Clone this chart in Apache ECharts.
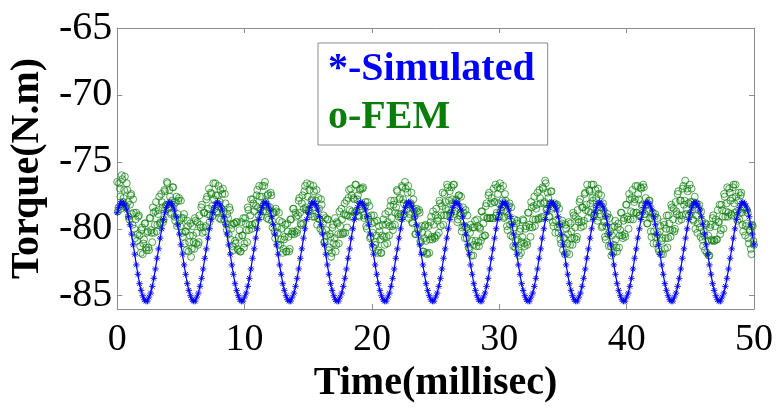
<!DOCTYPE html>
<html>
<head>
<meta charset="utf-8">
<script src="https://cdn.jsdelivr.net/npm/echarts@6/dist/echarts.min.js"></script>
<style>
  html, body { margin: 0; padding: 0; background: #fff; }
  #chart { width: 777px; height: 409px; }
</style>
</head>
<body>
<div id="chart"></div>
<script>
// Torque of the machine: analytical simulation vs finite-element result.
const seriesNames = ['*-Simulated', 'o-FEM'];
const yTickValues = [-85, -80, -75, -70, -65];
const xTickValues = [0, 10, 20, 30, 40, 50];

// Simulated torque (N.m), sampled every 0.125 ms from 0 to 50 ms.
const simStepMs = 0.125;
const simulatedTorque = [
  -78.8,-78.4,-78.1,-78.0,-78.1,-78.3,-78.6,-79.1,-79.7,-80.4,-81.2,-81.9,-82.7,-83.4,-84.1,-84.6,-85.0,-85.3,-85.4,-85.4,-85.1,-84.8,-84.3,-83.7,-83.0,-82.2,-81.5,-80.7,-80.0,-79.3,
  -78.8,-78.4,-78.1,-78.0,-78.1,-78.3,-78.6,-79.1,-79.7,-80.4,-81.2,-81.9,-82.7,-83.4,-84.1,-84.6,-85.0,-85.3,-85.4,-85.4,-85.1,-84.8,-84.3,-83.7,-83.0,-82.2,-81.5,-80.7,-80.0,-79.3,
  -78.8,-78.4,-78.1,-78.0,-78.1,-78.3,-78.6,-79.1,-79.7,-80.4,-81.2,-81.9,-82.7,-83.4,-84.1,-84.6,-85.0,-85.3,-85.4,-85.4,-85.1,-84.8,-84.3,-83.7,-83.0,-82.2,-81.5,-80.7,-80.0,-79.3,
  -78.8,-78.4,-78.1,-78.0,-78.1,-78.3,-78.6,-79.1,-79.7,-80.4,-81.2,-81.9,-82.7,-83.4,-84.1,-84.6,-85.0,-85.3,-85.4,-85.4,-85.1,-84.8,-84.3,-83.7,-83.0,-82.2,-81.5,-80.7,-80.0,-79.3,
  -78.8,-78.4,-78.1,-78.0,-78.1,-78.3,-78.6,-79.1,-79.7,-80.4,-81.2,-81.9,-82.7,-83.4,-84.1,-84.6,-85.0,-85.3,-85.4,-85.4,-85.1,-84.8,-84.3,-83.7,-83.0,-82.2,-81.5,-80.7,-80.0,-79.3,
  -78.8,-78.4,-78.1,-78.0,-78.1,-78.3,-78.6,-79.1,-79.7,-80.4,-81.2,-81.9,-82.7,-83.4,-84.1,-84.6,-85.0,-85.3,-85.4,-85.4,-85.1,-84.8,-84.3,-83.7,-83.0,-82.2,-81.5,-80.7,-80.0,-79.3,
  -78.8,-78.4,-78.1,-78.0,-78.1,-78.3,-78.6,-79.1,-79.7,-80.4,-81.2,-81.9,-82.7,-83.4,-84.1,-84.6,-85.0,-85.3,-85.4,-85.4,-85.1,-84.8,-84.3,-83.7,-83.0,-82.2,-81.5,-80.7,-80.0,-79.3,
  -78.8,-78.4,-78.1,-78.0,-78.1,-78.3,-78.6,-79.1,-79.7,-80.4,-81.2,-81.9,-82.7,-83.4,-84.1,-84.6,-85.0,-85.3,-85.4,-85.4,-85.1,-84.8,-84.3,-83.7,-83.0,-82.2,-81.5,-80.7,-80.0,-79.3,
  -78.8,-78.4,-78.1,-78.0,-78.1,-78.3,-78.6,-79.1,-79.7,-80.4,-81.2,-81.9,-82.7,-83.4,-84.1,-84.6,-85.0,-85.3,-85.4,-85.4,-85.1,-84.8,-84.3,-83.7,-83.0,-82.2,-81.5,-80.7,-80.0,-79.3,
  -78.8,-78.4,-78.1,-78.0,-78.1,-78.3,-78.6,-79.1,-79.7,-80.4,-81.2,-81.9,-82.7,-83.4,-84.1,-84.6,-85.0,-85.3,-85.4,-85.4,-85.1,-84.8,-84.3,-83.7,-83.0,-82.2,-81.5,-80.7,-80.0,-79.3,
  -78.8,-78.4,-78.1,-78.0,-78.1,-78.3,-78.6,-79.1,-79.7,-80.4,-81.2,-81.9,-82.7,-83.4,-84.1,-84.6,-85.0,-85.3,-85.4,-85.4,-85.1,-84.8,-84.3,-83.7,-83.0,-82.2,-81.5,-80.7,-80.0,-79.3,
  -78.8,-78.4,-78.1,-78.0,-78.1,-78.3,-78.6,-79.1,-79.7,-80.4,-81.2,-81.9,-82.7,-83.4,-84.1,-84.6,-85.0,-85.3,-85.4,-85.4,-85.1,-84.8,-84.3,-83.7,-83.0,-82.2,-81.5,-80.7,-80.0,-79.3,
  -78.8,-78.4,-78.1,-78.0,-78.1,-78.3,-78.6,-79.1,-79.7,-80.4,-81.2,-81.9,-82.7,-83.4,-84.1,-84.6,-85.0,-85.3,-85.4,-85.4,-85.1,-84.8,-84.3,-83.7,-83.0,-82.2,-81.5,-80.7,-80.0,-79.3,
  -78.8,-78.4,-78.1,-78.0,-78.1,-78.3,-78.6,-79.1,-79.7,-80.4,-81.2
];

// FEM torque (N.m), sampled every 0.1 ms from 0 to 50 ms.
const femStepMs = 0.1;
const femTorque = [
  -76.5,-78.4,-77.0,-78.5,
  -76.3,-77.7,-76.1,-78.3,-77.1,-79.1,-78.2,-77.4,-79.7,-78.8,-80.7,-78.8,-80.4,-79.0,-81.3,-80.1,-81.9,-80.8,-79.6,-81.6,-80.2,-81.6,-79.2,-80.3,-78.4,-80.3,-78.7,-80.2,-78.9,-77.6,-79.5,-78.0,-79.5,-77.1,-78.3,-76.5,-78.5,
  -77.1,-78.9,-77.9,-76.9,-79.1,-78.0,-79.8,-77.9,-79.4,-77.9,-80.3,-79.2,-81.1,-80.2,-79.4,-81.7,-80.5,-82.1,-79.8,-81.0,-79.2,-81.1,-79.5,-81.0,-79.7,-78.4,-80.3,-78.8,-80.2,-77.8,-78.9,-77.0,-79.0,-77.4,-79.0,-77.8,-76.6,
  -78.7,-77.5,-79.2,-77.1,-78.5,-77.0,-79.3,-78.1,-80.1,-79.2,-78.4,-80.8,-79.7,-81.6,-79.6,-81.1,-79.5,-81.6,-80.1,-81.7,-80.5,-79.2,-81.1,-79.6,-81.0,-78.6,-79.7,-77.8,-79.7,-78.1,-79.6,-78.3,-77.1,-79.0,-77.6,-79.1,-76.8,
  -78.2,-76.5,-78.7,-77.5,-79.3,-78.4,-77.5,-79.9,-78.8,-80.7,-78.7,-80.3,-78.8,-81.2,-80.0,-81.8,-80.8,-79.7,-81.7,-80.2,-81.7,-79.3,-80.4,-78.5,-80.4,-78.8,-80.3,-79.0,-77.7,-79.6,-78.1,-79.6,-77.2,-78.4,-76.6,-78.6,-77.1,
  -78.9,-77.8,-76.8,-79.1,-77.9,-79.7,-77.7,-79.3,-77.8,-80.2,-79.0,-81.0,-80.1,-79.3,-81.6,-80.4,-82.1,-79.9,-81.1,-79.2,-81.2,-79.6,-81.1,-79.8,-78.5,-80.4,-78.9,-80.3,-77.9,-79.0,-77.1,-79.1,-77.5,-79.1,-77.8,-76.7,
  -78.7,-77.5,-79.1,-77.0,-78.5,-76.9,-79.2,-78.0,-80.0,-79.1,-78.3,-80.6,-79.6,-81.4,-79.5,-81.0,-79.4,-81.6,-80.2,-81.8,-80.5,-79.3,-81.2,-79.7,-81.1,-78.7,-79.8,-77.9,-79.8,-78.2,-79.7,-78.4,-77.2,-79.1,-77.7,-79.2,-76.9,
  -78.1,-76.5,-78.6,-77.3,-79.2,-78.2,-77.3,-79.6,-78.6,-80.4,-78.5,-80.0,-78.6,-80.9,-79.8,-81.7,-80.7,-79.7,-81.8,-80.4,-81.8,-79.5,-80.6,-78.7,-80.6,-79.0,-80.5,-79.2,-77.9,-79.8,-78.3,-79.7,-77.4,-78.5,-76.7,-78.6,-77.2,
  -78.8,-77.8,-76.7,-78.9,-77.8,-79.5,-77.5,-79.0,-77.6,-79.9,-78.8,-80.7,-79.9,-79.0,-81.4,-80.3,-82.0,-79.9,-81.2,-79.4,-81.3,-79.8,-81.3,-80.0,-78.7,-80.6,-79.1,-80.5,-78.1,-79.2,-77.3,-79.2,-77.7,-79.2,-78.0,-76.7,-78.8,
  -77.4,-79.1,-77.0,-78.4,-76.8,-79.1,-77.9,-79.8,-79.0,-78.1,-80.5,-79.5,-81.3,-79.3,-80.9,-79.4,-81.6,-80.2,-81.8,-80.6,-79.4,-81.3,-79.8,-81.2,-78.8,-79.9,-78.0,-79.9,-78.3,-79.8,-78.5,-77.3,-79.2,-77.7,-79.2,-76.9,-78.1,
  -76.4,-78.6,-77.3,-79.1,-78.1,-77.2,-79.5,-78.4,-80.3,-78.3,-79.9,-78.5,-80.8,-79.6,-81.6,-80.7,-79.7,-81.8,-80.4,-81.9,-79.6,-80.7,-78.8,-80.7,-79.1,-80.6,-79.3,-78.0,-79.9,-78.4,-79.8,-77.4,-78.6,-76.7,-78.7,-77.2,-78.8,
  -77.7,-76.7,-78.9,-77.7,-79.4,-77.4,-78.9,-77.5,-79.8,-78.6,-80.6,-79.8,-78.9,-81.3,-80.2,-82.0,-79.9,-81.2,-79.4,-81.4,-79.9,-81.4,-80.1,-78.8,-80.7,-79.2,-80.6,-78.2,-79.3,-77.4,-79.3,-77.7,-79.3,-78.0,-76.8,-78.8,-77.4,
  -79.0,-76.9,-78.3,-76.7,-78.9,-77.7,-79.6,-78.7,-77.9,-80.2,-79.2,-81.1,-79.1,-80.6,-79.2,-81.5,-80.2,-81.9,-80.7,-79.5,-81.5,-80.0,-81.4,-79.0,-80.1,-78.2,-80.1,-78.5,-80.0,-78.7,-77.4,-79.4,-77.9,-79.3,-77.0,-78.2,-76.4,
  -78.5,-77.2,-79.0,-78.0,-77.0,-79.3,-78.2,-80.0,-78.1,-79.6,-78.2,-80.6,-79.4,-81.3,-80.5,-79.6,-81.8,-80.5,-82.0,-79.7,-80.9,-79.0,-80.9,-79.3,-80.8,-79.5,-78.2,-80.1,-78.6,-80.0,-77.6,-78.7,-76.9,-78.8,-77.3,-78.9,-77.7,
  -76.7,-78.8,-77.6,-79.4,-77.3,-78.8,-77.3,-79.7,-78.5,-80.5,-79.6,-78.8,-81.1,-80.1,-81.9,-79.8,-81.2
];

// FEM torque (N.m), intermediate samples at 0.05 ms + every 0.1 ms.
const femMidOffsetMs = 0.05;
const femTorqueMid = [
  -78.7,-76.6,-77.6,
  -76.0,-78.0,-77.1,-78.4,-76.6,-78.0,-79.3,-77.5,-78.9,-77.8,-80.0,-79.3,-80.9,-79.1,-80.5,-81.8,-79.9,-81.1,-79.6,-81.4,-80.3,-81.4,-79.2,-80.1,-81.0,-78.8,-79.7,-78.0,-79.7,-78.6,-79.6,-77.4,-78.4,-79.3,-77.2,-78.2,-76.6,
  -78.4,-77.6,-78.8,-76.9,-78.2,-79.4,-77.6,-78.9,-77.7,-79.8,-79.2,-80.6,-78.9,-80.2,-81.6,-79.8,-81.0,-79.6,-81.5,-80.5,-81.5,-79.4,-80.3,-81.2,-79.0,-79.9,-78.2,-79.9,-78.8,-79.8,-77.6,-78.5,-79.5,-77.3,-78.3,-76.6,-78.5,
  -77.5,-78.8,-76.8,-78.0,-79.3,-77.4,-78.7,-77.4,-79.6,-78.9,-80.4,-78.6,-80.0,-81.3,-79.6,-80.9,-79.5,-81.5,-80.6,-81.7,-79.5,-80.5,-81.4,-79.2,-80.1,-78.4,-80.1,-79.0,-80.0,-77.8,-78.7,-79.6,-77.5,-78.4,-76.8,-78.5,-77.6,
  -78.7,-76.8,-78.0,-79.2,-77.4,-78.6,-77.3,-79.4,-78.8,-80.2,-78.5,-79.9,-81.2,-79.4,-80.8,-79.5,-81.5,-80.6,-81.7,-79.6,-80.6,-81.5,-79.3,-80.2,-78.5,-80.2,-79.1,-80.1,-77.9,-78.8,-79.7,-77.5,-78.5,-76.8,-78.6,-77.6,-78.7,
  -76.7,-77.9,-79.1,-77.2,-78.4,-77.1,-79.2,-78.5,-80.0,-78.2,-79.6,-81.0,-79.2,-80.5,-79.3,-81.4,-80.6,-81.8,-79.7,-80.7,-81.7,-79.5,-80.4,-78.7,-80.4,-79.3,-80.3,-78.1,-79.0,-79.9,-77.7,-78.6,-77.0,-78.7,-77.7,-78.8,-76.7,
  -77.8,-79.0,-77.1,-78.3,-77.0,-79.0,-78.3,-79.8,-78.0,-79.3,-80.7,-79.0,-80.3,-79.0,-81.2,-80.5,-81.8,-79.8,-80.8,-81.8,-79.7,-80.6,-78.9,-80.6,-79.5,-80.5,-78.3,-79.2,-80.1,-77.9,-78.8,-77.1,-78.9,-77.8,-78.9,-76.8,-77.8,
  -78.9,-77.0,-78.2,-76.8,-78.9,-78.1,-79.5,-77.8,-79.1,-80.4,-78.7,-80.1,-78.8,-81.0,-80.3,-81.7,-79.8,-80.9,-81.9,-79.8,-80.8,-79.1,-80.8,-79.7,-80.7,-78.5,-79.4,-80.3,-78.1,-79.0,-77.3,-79.0,-78.0,-79.0,-76.9,-77.9,-78.9,
  -76.9,-78.1,-76.7,-78.7,-77.9,-79.3,-77.5,-78.8,-80.2,-78.4,-79.8,-78.6,-80.7,-80.0,-81.5,-79.7,-80.9,-82.0,-79.9,-80.9,-79.3,-81.0,-79.9,-80.9,-78.7,-79.6,-80.5,-78.3,-79.2,-77.5,-79.2,-78.1,-79.2,-77.0,-78.0,-79.0,-76.9,
  -78.1,-76.6,-78.6,-77.9,-79.2,-77.4,-78.7,-80.1,-78.3,-79.7,-78.4,-80.6,-79.9,-81.4,-79.6,-80.8,-82.0,-80.0,-81.0,-79.3,-81.1,-80.0,-81.0,-78.8,-79.7,-80.6,-78.4,-79.3,-77.6,-79.3,-78.2,-79.3,-77.1,-78.1,-79.1,-77.0,-78.0,
  -76.6,-78.5,-77.7,-79.1,-77.2,-78.5,-79.8,-78.1,-79.4,-78.2,-80.3,-79.7,-81.1,-79.4,-80.7,-81.9,-80.0,-81.1,-79.5,-81.2,-80.2,-81.2,-79.0,-79.9,-80.8,-78.6,-79.5,-77.8,-79.5,-78.4,-79.4,-77.3,-78.2,-79.2,-77.1,-78.1,
  -76.7,-77.9,-79.0,-77.1,-78.4,-77.0,-79.1,-78.4,-79.9,-78.1,-79.5,-80.8,-79.1,-80.4,-79.2,-81.3,-80.5,-81.8,-79.8,-80.8,-81.7,-79.6,-80.5,-78.8,-80.5,-79.4,-80.4,-78.2,-79.1,-80.0,-77.8,-78.7,-77.1,-78.8,-77.8,-78.8,-76.8,
  -77.8,-79.0,-77.0,-78.2,-76.9,-78.9,-78.2,-79.6,-77.9,-79.2,-80.6,-78.8,-80.2,-78.9,-81.1,-80.4,-81.7,-79.8,-80.9,-81.9,-79.7,-80.7,-79.0,-80.7,-79.6,-80.6,-78.4,-79.3,-80.2,-78.0,-78.9,-77.2,-79.0,-77.9,-79.0,-76.8,-77.9,
  -78.9,-77.0,-78.1,-76.7,-78.8,-78.0,-79.4,-77.6,-79.0,-80.3,-78.6,-79.9,-78.7,-80.8,-80.2,-81.6,-79.7,-80.9,-82.0,-79.9,-80.8,-79.2,-80.9,-79.8,-80.8,-78.6,-79.5,-80.4,-78.2,-79.1,-77.4,-79.1,-78.1,-79.1,-77.0,-77.9,-79.0,
  -76.9,-78.1,-76.7,-78.7,-77.9,-79.3,-77.5,-78.8,-80.2,-78.4,-79.8,-78.6,-80.7,-80.1,-81.5,-79.7,-80.9
];

// Pair each sample with its time stamp (ms).
const withTime = (values, step, offset) =>
  values.map((v, i) => [+(offset + i * step).toFixed(3), v]);

const serif = '"Liberation Serif", "Times New Roman", serif';
const axisGray = '#8c8c8c';
const simBlue = '#0000ff';
const femGreen = '#0a7d0a';

// Small asterisk marker drawn as strokes.
const asterisk = 'path://M0,-5L0,5M-5,0L5,0M-3.6,-3.6L3.6,3.6M-3.6,3.6L3.6,-3.6';

const tickCommon = { show: true, inside: true, length: 5, lineStyle: { color: axisGray, width: 1 } };
const lineCommon = { show: true, onZero: false, lineStyle: { color: axisGray, width: 1 } };

const chart = echarts.init(document.getElementById('chart'), null, { renderer: 'canvas' });
chart.setOption({
  animation: false,
  backgroundColor: '#fff',
  grid: { left: 113, right: 23, top: 28, bottom: 87, containLabel: false },
  legend: {
    orient: 'vertical',
    left: 318,
    top: 43,
    padding: [4, 13, 4, 4],
    itemGap: 2,
    itemWidth: 0,
    itemHeight: 0,
    icon: 'rect',
    itemStyle: { opacity: 0 },
    lineStyle: { opacity: 0 },
    selectedMode: false,
    backgroundColor: '#fff',
    borderColor: axisGray,
    borderWidth: 1,
    borderRadius: 0,
    textStyle: { fontFamily: serif, fontWeight: 'bold', fontSize: 40, lineHeight: 46 },
    data: [
      { name: seriesNames[0], textStyle: { color: simBlue } },
      { name: seriesNames[1], textStyle: { color: femGreen } }
    ]
  },
  xAxis: [
    {
      type: 'value', position: 'bottom', min: xTickValues[0], max: xTickValues[xTickValues.length - 1], interval: 10,
      axisLine: lineCommon, axisTick: tickCommon, splitLine: { show: false },
      axisLabel: { color: '#000', fontFamily: serif, fontSize: 38, margin: 12 },
      name: 'Time(millisec)', nameLocation: 'middle', nameGap: 51,
      nameTextStyle: { color: '#000', fontFamily: serif, fontWeight: 'bold', fontSize: 40 }
    },
    {
      type: 'value', position: 'top', min: xTickValues[0], max: xTickValues[xTickValues.length - 1], interval: 10,
      axisLine: lineCommon, axisTick: tickCommon, splitLine: { show: false }, axisLabel: { show: false }
    }
  ],
  yAxis: [
    {
      type: 'value', position: 'left', min: -86, max: -65,
      axisLine: lineCommon, splitLine: { show: false },
      axisTick: Object.assign({ customValues: yTickValues }, tickCommon),
      axisLabel: { customValues: yTickValues, color: '#000', fontFamily: serif, fontSize: 40, margin: 5 },
      name: 'Torque(N.m)', nameLocation: 'middle', nameGap: 51, nameRotate: 90,
      nameTextStyle: { color: '#000', fontFamily: serif, fontWeight: 'bold', fontSize: 40 }
    },
    {
      type: 'value', position: 'right', min: -86, max: -65,
      axisLine: lineCommon, splitLine: { show: false },
      axisTick: Object.assign({ customValues: yTickValues }, tickCommon),
      axisLabel: { show: false }
    }
  ],
  series: [
    {
      name: seriesNames[1],
      type: 'scatter',
      xAxisIndex: 0, yAxisIndex: 0,
      data: withTime(femTorque, femStepMs, 0).concat(withTime(femTorqueMid, femStepMs, femMidOffsetMs)),
      symbol: 'circle',
      symbolSize: 7,
      itemStyle: { color: 'rgba(10,125,10,0.06)', borderColor: 'rgba(10,125,10,0.85)', borderWidth: 1 },
      z: 2
    },
    {
      name: seriesNames[0],
      type: 'line',
      xAxisIndex: 0, yAxisIndex: 0,
      data: withTime(simulatedTorque, simStepMs, 0),
      symbol: asterisk,
      symbolSize: 6.5,
      showSymbol: true,
      showAllSymbol: true,
      lineStyle: { color: simBlue, width: 1.2 },
      itemStyle: { color: simBlue, borderColor: simBlue, borderWidth: 0.9 },
      z: 3
    }
  ]
});
</script>
</body>
</html>
